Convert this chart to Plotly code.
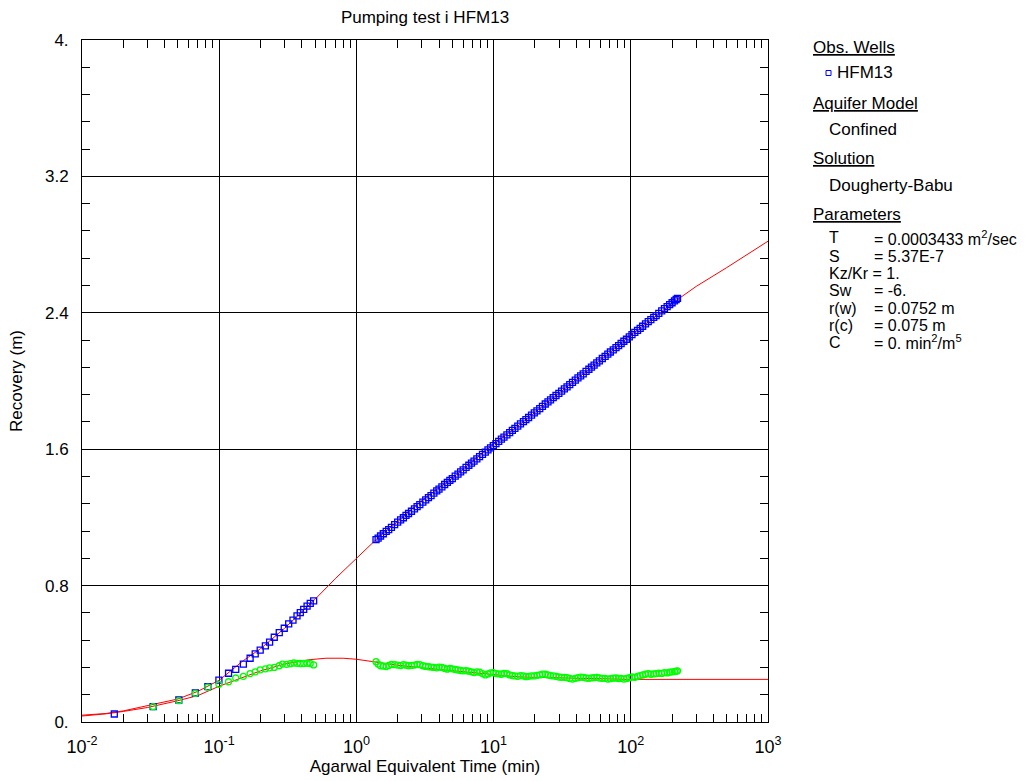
import plotly.graph_objects as go

# ---------------- data ----------------
early_obs_time = [0.0172, 0.033, 0.0508, 0.067, 0.0827, 0.0995, 0.117, 0.132, 0.150, 0.168,
                  0.183, 0.199, 0.217, 0.233, 0.252, 0.274, 0.298, 0.321, 0.345, 0.369,
                  0.390, 0.413, 0.437, 0.461, 0.488]
early_obs_recovery = [0.047, 0.090, 0.129, 0.170, 0.207, 0.246, 0.286, 0.309, 0.340, 0.374,
                      0.399, 0.422, 0.447, 0.469, 0.497, 0.524, 0.550, 0.575, 0.598, 0.622,
                      0.641, 0.661, 0.680, 0.696, 0.710]

early_deriv_time = [0.033, 0.0508, 0.067, 0.0827, 0.0995, 0.117, 0.132, 0.150, 0.168, 0.183,
                    0.199, 0.217, 0.233, 0.252, 0.274, 0.289, 0.310, 0.330, 0.350, 0.370,
                    0.390, 0.413, 0.437, 0.461, 0.488]
early_deriv_value = [0.090, 0.125, 0.168, 0.204, 0.221, 0.236, 0.258, 0.268, 0.284, 0.294,
                     0.306, 0.312, 0.318, 0.320, 0.330, 0.340, 0.338, 0.342, 0.346, 0.344,
                     0.343, 0.343, 0.344, 0.343, 0.335]

late_time = [1.39, 1.44, 1.5, 1.57, 1.65, 1.72, 1.8, 1.9, 2.0, 2.1,
             2.2, 2.3, 2.4, 2.52, 2.65, 2.77, 2.9, 3.05, 3.2, 3.35,
             3.5, 3.67, 3.85, 4.0, 4.2, 4.4, 4.6, 4.8, 5.0, 5.25,
             5.5, 5.75, 6.0, 6.3, 6.6, 6.9, 7.2, 7.55, 7.9, 8.3,
             8.7, 9.1, 9.5, 9.95, 10.4, 10.9, 11.4, 11.9, 12.5, 13.1,
             13.7, 14.3, 15, 15.7, 16.5, 17.2, 18, 18.9, 19.8, 20.7,
             21.7, 22.7, 23.8, 24.9, 26, 27.2, 28.5, 29.9, 31.3, 32.8,
             34.3, 35.9, 37.6, 39.4, 41.2, 43.1, 45, 47.2, 49.5, 51.7,
             54, 56.5, 59, 62, 65, 68, 71, 74.5, 78, 81.5,
             85, 89, 93, 97.5, 102, 107, 112, 117, 122, 128,
             134, 140, 147, 153, 160, 168, 176, 184, 192, 200,
             208, 214, 219]
late_obs_recovery = [1.070, 1.078, 1.091, 1.104, 1.118, 1.128, 1.142, 1.158, 1.172, 1.186,
                     1.198, 1.212, 1.223, 1.236, 1.250, 1.263, 1.275, 1.290, 1.303, 1.316,
                     1.328, 1.342, 1.355, 1.366, 1.379, 1.393, 1.405, 1.417, 1.428, 1.442,
                     1.454, 1.467, 1.479, 1.493, 1.506, 1.518, 1.530, 1.543, 1.556, 1.570,
                     1.583, 1.596, 1.608, 1.621, 1.633, 1.646, 1.659, 1.671, 1.684, 1.697,
                     1.710, 1.722, 1.735, 1.748, 1.762, 1.774, 1.786, 1.800, 1.813, 1.825,
                     1.838, 1.851, 1.865, 1.877, 1.889, 1.902, 1.915, 1.928, 1.941, 1.954,
                     1.966, 1.979, 1.992, 2.005, 2.018, 2.030, 2.042, 2.056, 2.069, 2.081,
                     2.093, 2.106, 2.118, 2.132, 2.145, 2.158, 2.170, 2.183, 2.196, 2.208,
                     2.220, 2.233, 2.245, 2.259, 2.272, 2.285, 2.297, 2.309, 2.321, 2.335,
                     2.348, 2.360, 2.373, 2.384, 2.397, 2.411, 2.424, 2.436, 2.448, 2.459,
                     2.470, 2.478, 2.485]
late_deriv_value = [0.354, 0.340, 0.330, 0.328, 0.325, 0.332, 0.338, 0.336, 0.334, 0.331,
                    0.336, 0.333, 0.330, 0.332, 0.334, 0.338, 0.336, 0.330, 0.326, 0.324,
                    0.322, 0.320, 0.318, 0.322, 0.320, 0.314, 0.310, 0.314, 0.312, 0.308,
                    0.305, 0.302, 0.300, 0.301, 0.298, 0.294, 0.290, 0.294, 0.292, 0.284,
                    0.276, 0.282, 0.288, 0.290, 0.284, 0.282, 0.280, 0.285, 0.283, 0.276,
                    0.272, 0.270, 0.268, 0.272, 0.270, 0.266, 0.268, 0.271, 0.270, 0.274,
                    0.276, 0.281, 0.280, 0.276, 0.272, 0.270, 0.268, 0.264, 0.262, 0.262,
                    0.260, 0.255, 0.252, 0.256, 0.260, 0.263, 0.262, 0.258, 0.256, 0.259,
                    0.260, 0.262, 0.258, 0.256, 0.256, 0.252, 0.254, 0.257, 0.258, 0.255,
                    0.256, 0.252, 0.255, 0.260, 0.264, 0.262, 0.268, 0.272, 0.276, 0.280,
                    0.284, 0.280, 0.282, 0.284, 0.286, 0.285, 0.290, 0.288, 0.292, 0.294,
                    0.296, 0.298, 0.300]

model_time = [0.01, 0.015, 0.02, 0.03, 0.05, 0.07, 0.1, 0.15, 0.2, 0.3, 0.5, 0.7, 1.0,
              1.5, 2, 3, 5, 7, 10, 15, 20, 30, 50, 70, 100, 150, 200, 300, 500, 700, 1000]
model_recovery = [0.040, 0.050, 0.065, 0.095, 0.135, 0.180, 0.245, 0.360, 0.430, 0.550,
                  0.720, 0.840, 0.960, 1.095, 1.175, 1.300, 1.430, 1.525, 1.630, 1.735,
                  1.815, 1.930, 2.070, 2.165, 2.270, 2.375, 2.455, 2.555, 2.665, 2.740,
                  2.820]

model_deriv_time = [0.01, 0.015, 0.02, 0.03, 0.05, 0.07, 0.1, 0.15, 0.2, 0.3, 0.45, 0.6,
                    0.8, 1.0, 1.5, 2, 3, 5, 7, 10, 15, 20, 40, 70, 100, 1000]
model_deriv = [0.035, 0.048, 0.062, 0.085, 0.125, 0.155, 0.210, 0.260, 0.300, 0.340,
               0.365, 0.374, 0.374, 0.368, 0.345, 0.333, 0.318, 0.300, 0.288, 0.276,
               0.265, 0.262, 0.257, 0.253, 0.250, 0.250]

x_tick_vals = [0.01, 0.1, 1, 10, 100, 1000]
x_tick_text = ["10<sup>-2</sup>", "10<sup>-1</sup>", "10<sup>0</sup>",
               "10<sup>1</sup>", "10<sup>2</sup>", "10<sup>3</sup>"]
y_tick_vals = [0, 0.8, 1.6, 2.4, 3.2, 4.0]
y_tick_text = ["0.", "0.8", "1.6", "2.4", "3.2", "4."]

obs_time = early_obs_time + late_time
obs_recovery = early_obs_recovery + late_obs_recovery
deriv_time = early_deriv_time + late_time
deriv_value = early_deriv_value + late_deriv_value

# ---------------- figure ----------------
FONT = "Arial, Liberation Sans, sans-serif"
fig = go.Figure()

fig.add_trace(go.Scatter(x=model_time, y=model_recovery, mode="lines",
                         line=dict(color="#ff0000", width=1), hoverinfo="skip"))
fig.add_trace(go.Scatter(x=model_deriv_time, y=model_deriv, mode="lines",
                         line=dict(color="#ff0000", width=1), hoverinfo="skip"))
fig.add_trace(go.Scatter(x=obs_time, y=obs_recovery, mode="markers",
                         marker=dict(symbol="square-open", size=6, color="#0000ff",
                                     line=dict(width=1.3, color="#0000ff"))))
fig.add_trace(go.Scatter(x=deriv_time, y=deriv_value, mode="markers",
                         marker=dict(symbol="circle-open", size=6, color="#00ff00",
                                     line=dict(width=1.3, color="#00ff00"))))

minor_x = [m * 10 ** e for e in range(-2, 3) for m in range(2, 10)]

fig.update_xaxes(type="log", range=[-2, 3], tickvals=x_tick_vals, ticktext=x_tick_text,
                 ticks="inside", ticklen=8, tickcolor="black",
                 showgrid=True, gridcolor="black", gridwidth=1,
                 showline=True, linecolor="black", linewidth=1, mirror="allticks",
                 tickfont=dict(family=FONT, size=18, color="black"),
                 ticklabelstandoff=8,
                 minor=dict(tickvals=minor_x, ticks="inside", ticklen=8,
                            tickcolor="black", showgrid=False),
                 title=dict(text="Agarwal Equivalent Time (min)",
                            font=dict(family=FONT, size=17, color="black"), standoff=4),
                 zeroline=False, automargin=False)
fig.update_yaxes(range=[0, 4], tickvals=y_tick_vals, ticktext=y_tick_text,
                 ticks="inside", ticklen=8, tickcolor="black",
                 showgrid=True, gridcolor="black", gridwidth=1,
                 showline=True, linecolor="black", linewidth=1, mirror="allticks",
                 tickfont=dict(family=FONT, size=17, color="black"),
                 ticklabelstandoff=9,
                 minor=dict(dtick=0.16, tick0=0, ticks="inside", ticklen=8,
                            tickcolor="black", showgrid=False),
                 title=dict(text="Recovery (m)",
                            font=dict(family=FONT, size=17, color="black"), standoff=18),
                 zeroline=False, automargin=False)

W, H = 1034, 781
L, R, T, B = 82, 266, 40, 59
pw, ph = W - L - R, H - T - B


def px(xp):
    return (xp - L) / pw


def py(yp):
    return (H - B - yp) / ph


annotations = []


def txt(text, xp, yp, size=17):
    annotations.append(dict(text=text, x=px(xp), y=py(yp), xref="paper", yref="paper",
                            xanchor="left", yanchor="middle", showarrow=False,
                            font=dict(family=FONT, size=size, color="black")))


txt("<u>Obs. Wells</u>", 811, 48)
txt("HFM13", 835, 73)
txt("<u>Aquifer Model</u>", 811, 103)
txt("Confined", 827, 129)
txt("<u>Solution</u>", 811, 159)
txt("Dougherty-Babu", 827, 185)
txt("<u>Parameters</u>", 811, 214)
params = [("T", "= 0.0003433 m<sup>2</sup>/sec", 238),
          ("S", "= 5.37E-7", 256),
          ("Sw", "= -6.", 290),
          ("r(w)", "= 0.0752 m", 308),
          ("r(c)", "= 0.075 m", 325),
          ("C", "= 0. min<sup>2</sup>/m<sup>5</sup>", 342)]
for name, val, yy in params:
    txt(name, 827, yy, size=16)
    txt(val, 872, yy, size=16)
txt("Kz/Kr = 1.", 827, 273, size=16)

fig.update_layout(
    width=W, height=H,
    margin=dict(l=L, r=R, t=T, b=B),
    paper_bgcolor="white", plot_bgcolor="white",
    showlegend=False,
    title=dict(text="Pumping test i HFM13", x=(L + pw / 2) / W, xanchor="center",
               y=1 - 17 / H, yanchor="middle",
               font=dict(family=FONT, size=17, color="black")),
    annotations=annotations,
    shapes=[dict(type="rect", xref="paper", yref="paper",
                 x0=px(826), x1=px(831), y0=py(70.5), y1=py(75.5),
                 line=dict(color="#0000ff", width=1), fillcolor="rgba(0,0,0,0)")],
)

fig.write_html("out.html")
